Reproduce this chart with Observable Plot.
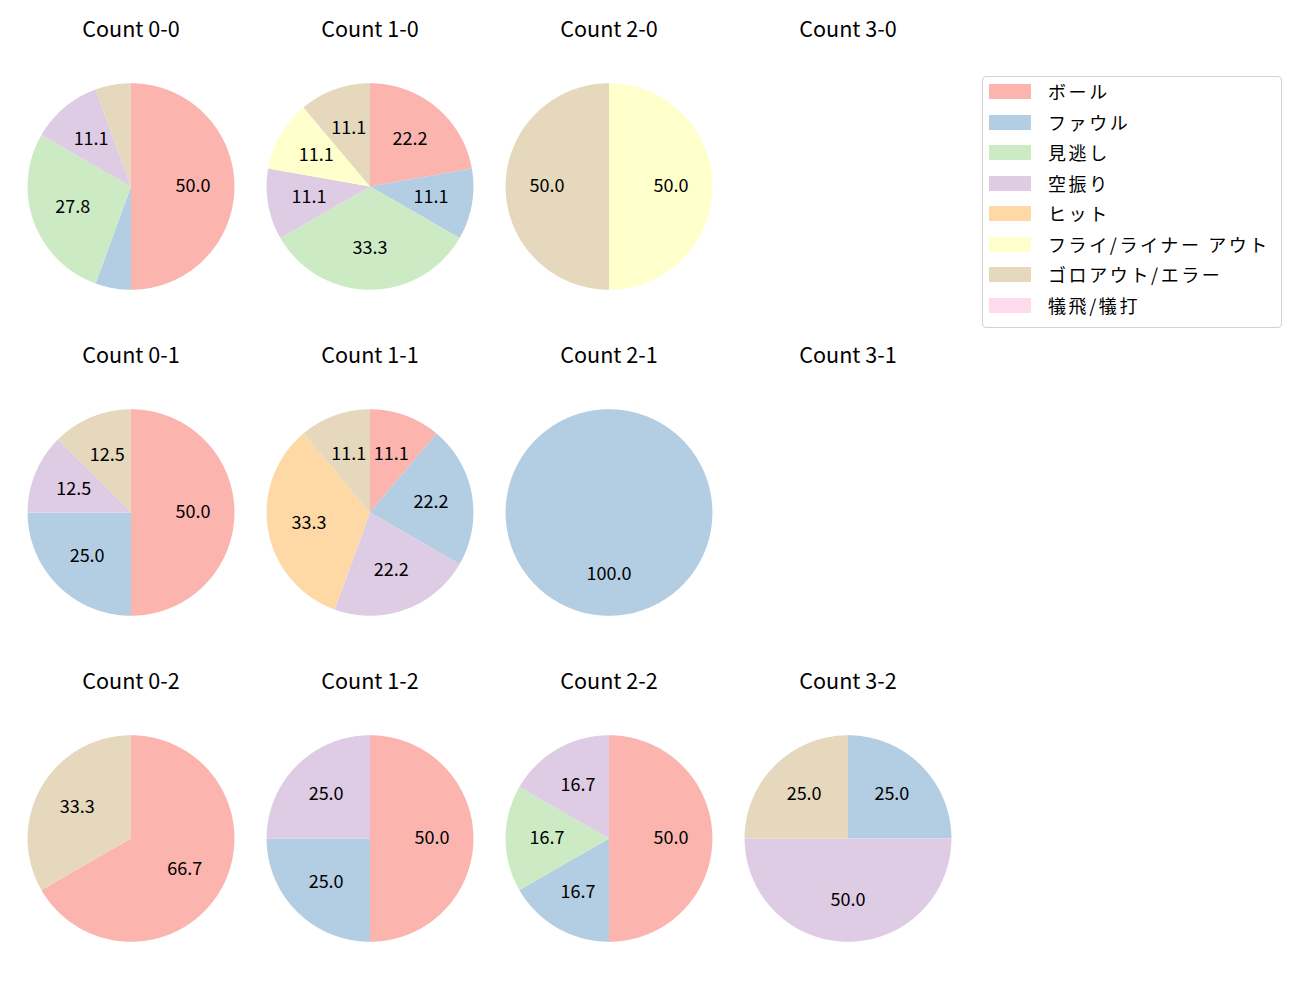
<!DOCTYPE html>
<html><head><meta charset="utf-8">
<script src="https://cdn.jsdelivr.net/npm/d3@7"></script>
<script src="https://cdn.jsdelivr.net/npm/@observablehq/plot@0.6"></script>
<style>
body{margin:0;background:#fff;font-family:"Noto Sans CJK JP","Noto Sans",sans-serif;}
#wrap{position:relative;width:1300px;height:1000px;}
#legend{position:absolute;left:982px;top:76px;width:300px;height:252px;border:1px solid #d3d3d3;border-radius:4px;box-sizing:border-box;background:#fff;}
.item{position:absolute;left:0;height:30px;}
.patch{position:absolute;left:6px;width:42px;height:15px;}
.lab{position:absolute;left:65px;font-size:18px;line-height:18px;color:#000;white-space:nowrap;letter-spacing:2.6px;}
</style></head>
<body><div id="wrap"><div id="chart"></div><div id="legend"></div></div>
<script>
const categories = ["ボール","ファウル","見逃し","空振り","ヒット","フライ/ライナー アウト","ゴロアウト/エラー","犠飛/犠打"];
const colors = ["#fbb4ae","#b3cde3","#ccebc5","#decbe4","#fed9a6","#ffffcc","#e5d8bd","#fddaec"];
// counts: [balls, strikes]
const countBalls   = [0,1,2,3, 0,1,2,3, 0,1,2,3];
const countStrikes = [0,0,0,0, 1,1,1,1, 2,2,2,2];
// values per count, in category order
const values = [
  [9,1,5,2,0,0,1,0],   // 0-0
  [2,1,3,1,0,1,1,0],   // 1-0
  [0,0,0,0,0,1,1,0],   // 2-0
  [0,0,0,0,0,0,0,0],   // 3-0
  [4,2,0,1,0,0,1,0],   // 0-1
  [1,2,0,2,3,0,1,0],   // 1-1
  [0,1,0,0,0,0,0,0],   // 2-1
  [0,0,0,0,0,0,0,0],   // 3-1
  [2,0,0,0,0,0,1,0],   // 0-2
  [2,1,0,1,0,0,0,0],   // 1-2
  [3,1,1,1,0,0,0,0],   // 2-2
  [0,1,0,2,0,0,1,0]    // 3-2
];

const cells = countBalls.map((b,i)=>({b, s:countStrikes[i], title:`Count ${b}-${countStrikes[i]}`, vals: values[i]}));

const pie = d3.pie().sort(null);
const pts = [], labels = [];
cells.forEach((c,ci)=>{
  const total = d3.sum(c.vals);
  if (!total) return;
  const arcs = pie(c.vals);
  arcs.forEach((a,k)=>{
    if (a.value<=0) return;
    const id = ci+"-"+k;
    const span = a.endAngle - a.startAngle;
    const n = Math.max(2, Math.ceil(span/0.01));
    if (span < 2*Math.PI - 1e-9) pts.push({id, b:c.b, s:c.s, cat:categories[k], x:0, y:0});
    for (let j=0;j<=n;j++){
      const t = a.startAngle + span*j/n;
      pts.push({id, b:c.b, s:c.s, cat:categories[k], x:Math.sin(t), y:Math.cos(t)});
    }
    const pct = a.value/total*100;
    if (pct >= 10){
      const m = (a.startAngle+a.endAngle)/2;
      labels.push({b:c.b, s:c.s, x:0.6*Math.sin(m), y:0.6*Math.cos(m), text:pct.toFixed(1)});
    }
  });
});

const R = 103.5;
const chart = Plot.plot({
  width: 1300, height: 1000,
  marginLeft: 10, marginRight: 331.6, marginTop: 22, marginBottom: -2.5,
  style: {fontFamily: '"Noto Sans CJK JP","Noto Sans",sans-serif', background:"#fff", overflow:"visible"},
  fx: {domain:[0,1,2,3], padding:0, axis:null},
  fy: {domain:[0,1,2], padding:0, axis:null},
  x: {domain:[-119.6/R, 119.6/R], axis:null},
  y: {domain:[-163.4/R, 163.4/R], axis:null},
  color: {domain: categories, range: colors},
  marks: [
    Plot.line(pts, {x:"x", y:"y", z:"id", fx:"b", fy:"s", fill:"cat", stroke:"none", curve:"linear-closed"}),
    Plot.text(labels, {x:"x", y:"y", fx:"b", fy:"s", text:"text", fontSize:18, fill:"#000"}),
    Plot.text(cells, {x:()=>0, y:()=>156.5/R, fx:"b", fy:"s", text:"title", fontSize:21.6, fill:"#000"})
  ]
});
document.getElementById("chart").appendChild(chart);

const leg = document.getElementById("legend");
categories.forEach((c,i)=>{
  const it = document.createElement("div");
  it.className="item"; it.style.top = (7 + i*30.5)+"px";
  it.innerHTML = `<div class="patch" style="background:${colors[i]};top:0px"></div><div class="lab" style="top:-2px">${c}</div>`;
  leg.appendChild(it);
});
</script></body></html>
